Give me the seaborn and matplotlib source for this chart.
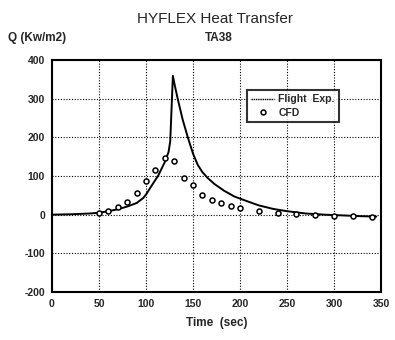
import matplotlib
matplotlib.use("Agg")
import matplotlib.pyplot as plt
import seaborn as sns
import pandas as pd
from matplotlib.lines import Line2D

# Flight experiment curve
flight_t = [0, 20, 40, 50, 60, 70, 80, 90, 97, 100, 106, 113, 120, 124, 125.8, 128.6,
            131, 134, 139, 144.6, 150, 155, 160, 166, 173, 183, 194, 205, 220, 235, 250,
            270, 290, 310, 330, 345]
flight_q = [0, 1, 3, 5, 9, 14, 21, 30, 43, 52, 75, 101, 136, 162, 190, 359,
            330, 297, 246, 199, 158, 129, 110, 94, 79, 62, 47, 37, 24, 15, 9,
            3, 0, -2, -4, -5]

# CFD points
cfd_t = [50, 60, 70, 80, 90, 100, 110, 120, 130, 140, 150, 160, 170, 180, 190, 200, 220, 240, 260, 280, 300, 320, 340]
cfd_q = [4, 10, 20, 32, 56, 86, 115, 146, 140, 95, 77, 51, 39, 30, 23, 17, 10, 4, 2, -1, -3, -4, -5]

xticks = [0, 50, 100, 150, 200, 250, 300, 350]
yticks = [-200, -100, 0, 100, 200, 300, 400]

sns.set_style("white")
plt.rcParams['font.family'] = ['Liberation Sans', 'DejaVu Sans']

flight = pd.DataFrame({"t": flight_t, "q": flight_q})
cfd = pd.DataFrame({"t": cfd_t, "q": cfd_q})

fig = plt.figure(figsize=(3.95, 3.4), dpi=100)
ax = fig.add_axes([0.1316, 0.1412, 0.8330, 0.6823])

sns.lineplot(data=flight, x="t", y="q", ax=ax, color="black", linewidth=1.4, sort=False)
sns.scatterplot(data=cfd, x="t", y="q", ax=ax, marker="o", s=13, facecolor="white",
                edgecolor="black", linewidth=1.1, zorder=5)

ax.set_xlim(0, 350)
ax.set_ylim(-200, 400)
ax.set_xticks(xticks)
ax.set_yticks(yticks)
ax.set_xticklabels([str(v) for v in xticks], fontsize=7.5, fontweight="bold")
ax.set_yticklabels([str(v) for v in yticks], fontsize=7.5, fontweight="bold")
ax.tick_params(length=0, pad=5)
ax.grid(True, color="black", linestyle=(0, (1, 1.5)), linewidth=0.8)
for s in ax.spines.values():
    s.set_color("black")
    s.set_linewidth(1.5)
ax.set_xlabel("Time  (sec)", fontsize=8.5, fontweight="bold", labelpad=6)
ax.set_ylabel("")

handles = [Line2D([0], [0], color="black", linestyle=(0, (1, 0.6)), linewidth=1.0),
           Line2D([0], [0], marker="o", linestyle="none", markerfacecolor="white",
                  markeredgecolor="black", markersize=3.5, markeredgewidth=1.1)]
leg = ax.legend(handles, ["Flight  Exp.", "CFD"], loc="upper left", bbox_to_anchor=(0.577, 0.892),
                fontsize=7.5, frameon=True, fancybox=False, handlelength=2.2,
                borderpad=0.4, labelspacing=0.3, handletextpad=0.4)
leg.get_frame().set_edgecolor("black")
leg.get_frame().set_linewidth(1.5)
for t in leg.get_texts():
    t.set_fontweight("bold")

fig.text(0.545, 0.945, "HYFLEX Heat Transfer", ha="center", va="center", fontsize=11)
fig.text(0.555, 0.888, "TA38", ha="center", va="center", fontsize=8.5, fontweight="bold")
fig.text(0.02, 0.888, "Q (Kw/m2)", ha="left", va="center", fontsize=8.5, fontweight="bold")

fig.savefig("out.png", dpi=100)
